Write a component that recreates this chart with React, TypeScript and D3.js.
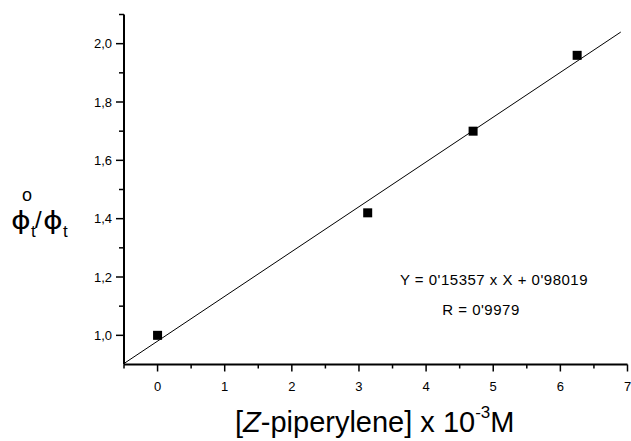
import React from 'react';
import * as d3 from 'd3';

// data
const concX = [0, 3.13, 4.7, 6.25];
const ratioY = [1.0, 1.42, 1.7, 1.96];
const fitSlope = 0.15357;
const fitIntercept = 0.98019;
const fitRange = [-0.5, 6.9];
const xTicks = [0, 1, 2, 3, 4, 5, 6, 7];
const xMinor = [-0.5, 0.5, 1.5, 2.5, 3.5, 4.5, 5.5, 6.5];
const yTicks = [1.0, 1.2, 1.4, 1.6, 1.8, 2.0];
const yMinor = [1.1, 1.3, 1.5, 1.7, 1.9, 2.1];

const W = 631;
const H = 441;
const font = '"Liberation Sans", Arial, Helvetica, sans-serif';
const phiFont = '"DejaVu Sans", sans-serif';

export default function App() {
  const x = d3.scaleLinear().domain([-0.5, 7]).range([124, 627.5]);
  const y = d3.scaleLinear().domain([0.9, 2.1]).range([364.5, 14.5]);
  const fmt = (v: number) => d3.format('.1f')(v).replace('.', ',');

  const line = d3.line<number>()
    .x(d => x(d))
    .y(d => y(fitSlope * d + fitIntercept));

  const x0 = x.range()[0];
  const y0 = y.range()[0];

  return (
    <div style={{ position: 'absolute', left: 0, top: 0 }}>
      <svg width={W} height={H} style={{ display: 'block', background: '#fff' }} fontFamily={font}>
        {/* fit line */}
        <path d={line(fitRange) || ''} fill="none" stroke="#000" strokeWidth={1} />

        {/* points */}
        {concX.map((c, i) => (
          <rect key={i} x={x(c) - 4.5} y={y(ratioY[i]) - 4.5} width={9} height={9} fill="#000" />
        ))}

        {/* y axis */}
        <line x1={x0} x2={x0} y1={y(2.1)} y2={y0} stroke="#000" strokeWidth={2} />
        {yTicks.map(t => (
          <g key={'y' + t}>
            <line x1={x0 - 8} x2={x0} y1={y(t)} y2={y(t)} stroke="#000" strokeWidth={1.5} />
            <text x={x0 - 12} y={y(t)} dy="0.35em" textAnchor="end" fontSize={13}>{fmt(t)}</text>
          </g>
        ))}
        {yMinor.map(t => (
          <line key={'ym' + t} x1={x0 - 5} x2={x0} y1={y(t)} y2={y(t)} stroke="#000" strokeWidth={1.5} />
        ))}

        {/* x axis */}
        <line x1={x0} x2={x(7)} y1={y0} y2={y0} stroke="#000" strokeWidth={2} />
        {xTicks.map(t => (
          <g key={'x' + t}>
            <line x1={x(t)} x2={x(t)} y1={y0} y2={y0 + 7} stroke="#000" strokeWidth={1.5} />
            <text x={x(t)} y={y0 + 26} textAnchor="middle" fontSize={13}>{t}</text>
          </g>
        ))}
        {xMinor.map(t => (
          <line key={'xm' + t} x1={x(t)} x2={x(t)} y1={y0} y2={y0 + 4} stroke="#000" strokeWidth={1.5} />
        ))}

        {/* fit annotation */}
        <text x={494} y={285} textAnchor="middle" fontSize={15} letterSpacing={0.5}>Y = 0'15357 x X + 0'98019</text>
        <text x={481} y={315} textAnchor="middle" fontSize={15} letterSpacing={0.5}>R = 0'9979</text>

        {/* y label */}
        <g fontSize={24}>
          <text transform="translate(11,229) scale(1.25,1)" fontFamily={phiFont}>ϕ</text>
          <text x={31} y={237} fontSize={17}>t</text>
          <text x={22} y={201} fontSize={18}>o</text>
          <text x={35} y={228}>/</text>
          <text transform="translate(43,229) scale(1.25,1)" fontFamily={phiFont}>ϕ</text>
          <text x={63} y={237} fontSize={17}>t</text>
        </g>

        {/* x label */}
        <text x={235} y={432} fontSize={29}>
          <tspan>[</tspan>
          <tspan fontStyle="italic">Z</tspan>
          <tspan>-piperylene] x 10</tspan>
          <tspan fontSize={17} dy={-14}>-3</tspan>
          <tspan dy={14}>M</tspan>
        </text>
      </svg>
    </div>
  );
}
